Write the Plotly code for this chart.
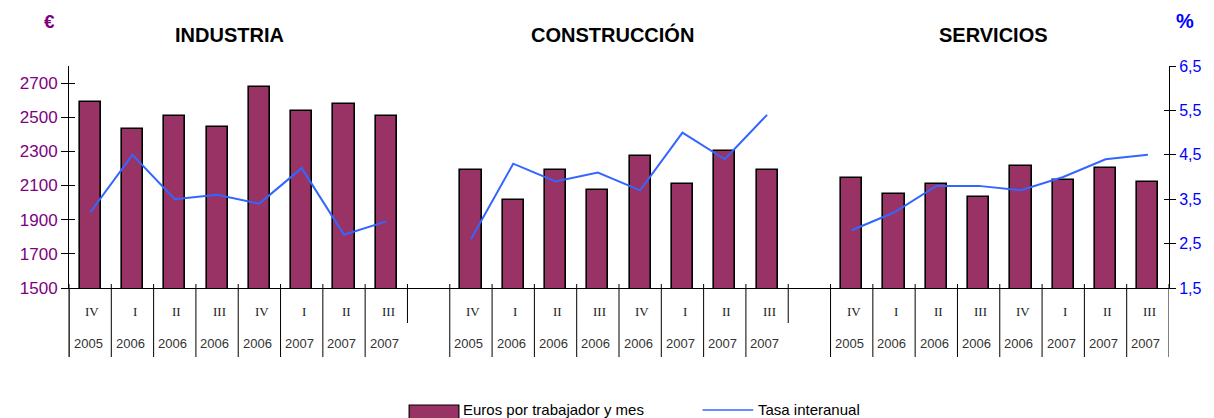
import plotly.graph_objects as go

# ---- data ----
sectors = ["INDUSTRIA", "CONSTRUCCIÓN", "SERVICIOS"]
quarters = ["IV", "I", "II", "III", "IV", "I", "II", "III"]
years = ["2005", "2006", "2006", "2006", "2006", "2007", "2007", "2007"]

euros_industria = [2590, 2430, 2510, 2440, 2675, 2535, 2580, 2510]
euros_construccion = [2190, 2015, 2190, 2075, 2275, 2110, 2300, 2190]
euros_servicios = [2145, 2050, 2110, 2030, 2215, 2135, 2205, 2120]

tasa_industria = [3.2, 4.5, 3.5, 3.6, 3.4, 4.2, 2.7, 3.0]
tasa_construccion = [2.6, 4.3, 3.9, 4.1, 3.7, 5.0, 4.4, 5.4]
tasa_servicios = [2.8, 3.2, 3.8, 3.8, 3.7, 4.0, 4.4, 4.5]

left_ticks = [1500, 1700, 1900, 2100, 2300, 2500, 2700]
right_ticks = [1.5, 2.5, 3.5, 4.5, 5.5, 6.5]
right_ticktext = ["1,5", "2,5", "3,5", "4,5", "5,5", "6,5"]

euros = [euros_industria, euros_construccion, euros_servicios]
tasas = [tasa_industria, tasa_construccion, tasa_servicios]

# ---- layout constants ----
n = len(quarters)
step = n + 1  # one empty slot between groups
PURPLE = "#800080"
BLUE = "#0000FF"
BAR = "#993366"
LINE = "#3366FF"

bar_x, bar_y, line_x, line_y = [], [], [], []
for g in range(len(sectors)):
    for i in range(n):
        bar_x.append(g * step + i)
        bar_y.append(euros[g][i])
        line_x.append(g * step + i)
        line_y.append(tasas[g][i])
    line_x.append(None)
    line_y.append(None)

fig = go.Figure()
fig.add_trace(go.Bar(
    x=bar_x, y=bar_y, width=0.5, name="Euros por trabajador y mes",
    marker=dict(color=BAR, line=dict(color="black", width=1.6)),
    yaxis="y", showlegend=False,
))
fig.add_trace(go.Scatter(
    x=line_x, y=line_y, mode="lines", name="Tasa interanual",
    line=dict(color=LINE, width=2), yaxis="y2", connectgaps=False,
    showlegend=False,
))

# page has an 8px body margin; compensate so the plot area sits at
# page x 65..1171, y 66..288
OFF = 8
ML, MT = 65 - OFF, 66 - OFF
W, H = 1214 - OFF, 418 - OFF
MR = W - (1171 - OFF)
MB = H - (288 - OFF)

xmax = len(sectors) * step - 1.5
fig.update_layout(
    width=W, height=H,
    margin=dict(l=ML, r=MR, t=MT, b=MB, pad=0),
    paper_bgcolor="white", plot_bgcolor="white",
    font=dict(family="Liberation Sans, Arial, sans-serif"),
    bargap=0,
    xaxis=dict(range=[-0.5, xmax], showgrid=False, zeroline=False,
               showticklabels=False, ticks="", showline=True,
               linecolor="black", linewidth=1),
    yaxis=dict(range=[1500, 2800], tickvals=left_ticks, showgrid=False,
               zeroline=False, showline=True, linecolor="black", linewidth=1,
               ticks="outside", ticklen=7, tickcolor="black",
               tickfont=dict(size=17, color=PURPLE)),
    yaxis2=dict(range=[1.5, 6.5], tickvals=right_ticks, ticktext=right_ticktext,
                overlaying="y", side="right", showgrid=False, zeroline=False,
                showline=True, linecolor="black", linewidth=1,
                ticks="outside", ticklen=6, tickcolor="black",
                tickfont=dict(size=16, color=BLUE)),
    yaxis3=dict(range=[1500, 2800], tickvals=left_ticks, overlaying="y",
                side="left", showgrid=False, zeroline=False, showline=False,
                ticks="inside", ticklen=6, tickcolor="black",
                showticklabels=False),
    yaxis4=dict(range=[1.5, 6.5], tickvals=right_ticks, overlaying="y",
                side="right", showgrid=False, zeroline=False, showline=False,
                ticks="inside", ticklen=5, tickcolor="black",
                showticklabels=False),
)
# dummy traces to activate the inside-tick axes
fig.add_trace(go.Scatter(x=[None], y=[None], yaxis="y3", showlegend=False))
fig.add_trace(go.Scatter(x=[None], y=[None], yaxis="y4", showlegend=False))

# page-pixel -> paper coordinate helpers
PL, PR, PT, PB = 65, 1171, 66, 288
def px(xp):
    return (xp - PL) / (PR - PL)
def py(yp):
    return (PB - yp) / (PB - PT)

shapes = []
annotations = []

def ann(**kw):
    kw.setdefault("showarrow", False)
    kw.setdefault("xanchor", "center")
    kw.setdefault("yanchor", "middle")
    annotations.append(kw)

# separators under the axis
for g in range(len(sectors)):
    for i in range(n + 1):
        xb = g * step + i - 0.5
        is_end = (i == n)
        bottom = py(323) if (is_end and g < len(sectors) - 1) else py(357)
        shapes.append(dict(type="line", xref="x", yref="paper", x0=xb, x1=xb,
                           y0=py(284), y1=bottom, line=dict(color="black", width=1)))
    for i in range(n):
        ann(x=g * step + i + 0.05, y=py(311), xref="x", yref="paper",
            text=quarters[i],
            font=dict(family="Liberation Serif, Times New Roman, serif",
                      size=13, color="#222222"))
        ann(x=g * step + i - 0.05, y=py(343), xref="x", yref="paper",
            text=years[i], font=dict(size=13, color="#333333"))

# titles
title_pos = [3.3, 12.35, 21.35]
for g, s in enumerate(sectors):
    ann(x=title_pos[g], y=py(34.5), xref="x", yref="paper",
        text="<b>%s</b>" % s, font=dict(size=20, color="black"))

ann(x=px(45), y=py(21), xref="paper", yref="paper", text="<b>€</b>",
    font=dict(size=19, color=PURPLE))
ann(x=px(1187), y=py(21), xref="paper", yref="paper", text="<b>%</b>",
    font=dict(size=20, color=BLUE))

# left axis extension below plot
shapes.append(dict(type="line", xref="paper", yref="paper", x0=0, x1=0,
                   y0=0, y1=py(357), line=dict(color="black", width=1)))

# manual legend (kept just inside the bottom edge)
shapes.append(dict(type="rect", xref="paper", yref="paper",
                   x0=px(407), x1=px(457), y0=py(405), y1=py(422),
                   fillcolor=BAR, line=dict(color="black", width=1.2)))
shapes.append(dict(type="line", xref="paper", yref="paper",
                   x0=px(702), x1=px(753), y0=py(410), y1=py(410),
                   line=dict(color=LINE, width=1.5)))
ann(x=px(459), y=py(409), xref="paper", yref="paper", xanchor="left",
    text="Euros por trabajador y mes", font=dict(size=15, color="black"))
ann(x=px(756), y=py(409), xref="paper", yref="paper", xanchor="left",
    text="Tasa interanual", font=dict(size=15, color="black"))

fig.update_layout(shapes=shapes, annotations=annotations)
fig.write_html("out.html")
